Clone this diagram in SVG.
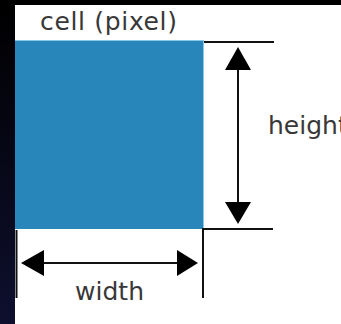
<svg xmlns="http://www.w3.org/2000/svg" width="341" height="324" viewBox="0 0 341 324">
  <defs>
    <linearGradient id="band" x1="0" y1="0" x2="0" y2="1">
      <stop offset="0" stop-color="#000000"/>
      <stop offset="1" stop-color="#0e0f2e"/>
    </linearGradient>
  </defs>
  <style>
    .t { font-family: "DejaVu Sans", Verdana, sans-serif; font-size: 25px; fill: #383838; }
    .ln { stroke: #111111; stroke-width: 2; fill: none; }
    .ah { fill: #000000; }
  </style>
  <rect x="0" y="0" width="341" height="324" fill="#ffffff"/>
  <rect x="0" y="0" width="15" height="324" fill="url(#band)"/>
  <rect x="0" y="0" width="341" height="5" fill="#000000"/>

  <g id="cell">
    <rect x="15" y="41" width="189" height="188" fill="#2886bb"/>
    <line x1="203.5" y1="41" x2="203.5" y2="229" stroke="#8cc8e6" stroke-width="1"/>
    <line x1="15" y1="40.5" x2="204" y2="40.5" stroke="#8cc8e6" stroke-width="1"/>
    <text class="t" x="40" y="30" textLength="137" lengthAdjust="spacing">cell (pixel)</text>
  </g>

  <g id="height-label">
    <text class="t" x="268" y="134">height</text>
  </g>

  <g id="width-label">
    <text class="t" x="75" y="300" textLength="69" lengthAdjust="spacing">width</text>
  </g>

  <g id="connectors">
    <line class="ln" x1="204" y1="42" x2="274" y2="42"/>
    <line class="ln" x1="203" y1="229" x2="273" y2="229"/>
    <line class="ln" x1="203" y1="228" x2="203" y2="298"/>
    <line class="ln" x1="16.5" y1="230" x2="16.5" y2="298"/>

    <line class="ln" x1="238" y1="66" x2="238" y2="206"/>
    <polygon class="ah" points="238,47 251,70 225,70"/>
    <polygon class="ah" points="225,202 251,202 238,224"/>

    <line class="ln" x1="40" y1="263" x2="181" y2="263"/>
    <polygon class="ah" points="21,263 44,250 44,276"/>
    <polygon class="ah" points="198,263 177,250 177,276"/>
  </g>
</svg>
